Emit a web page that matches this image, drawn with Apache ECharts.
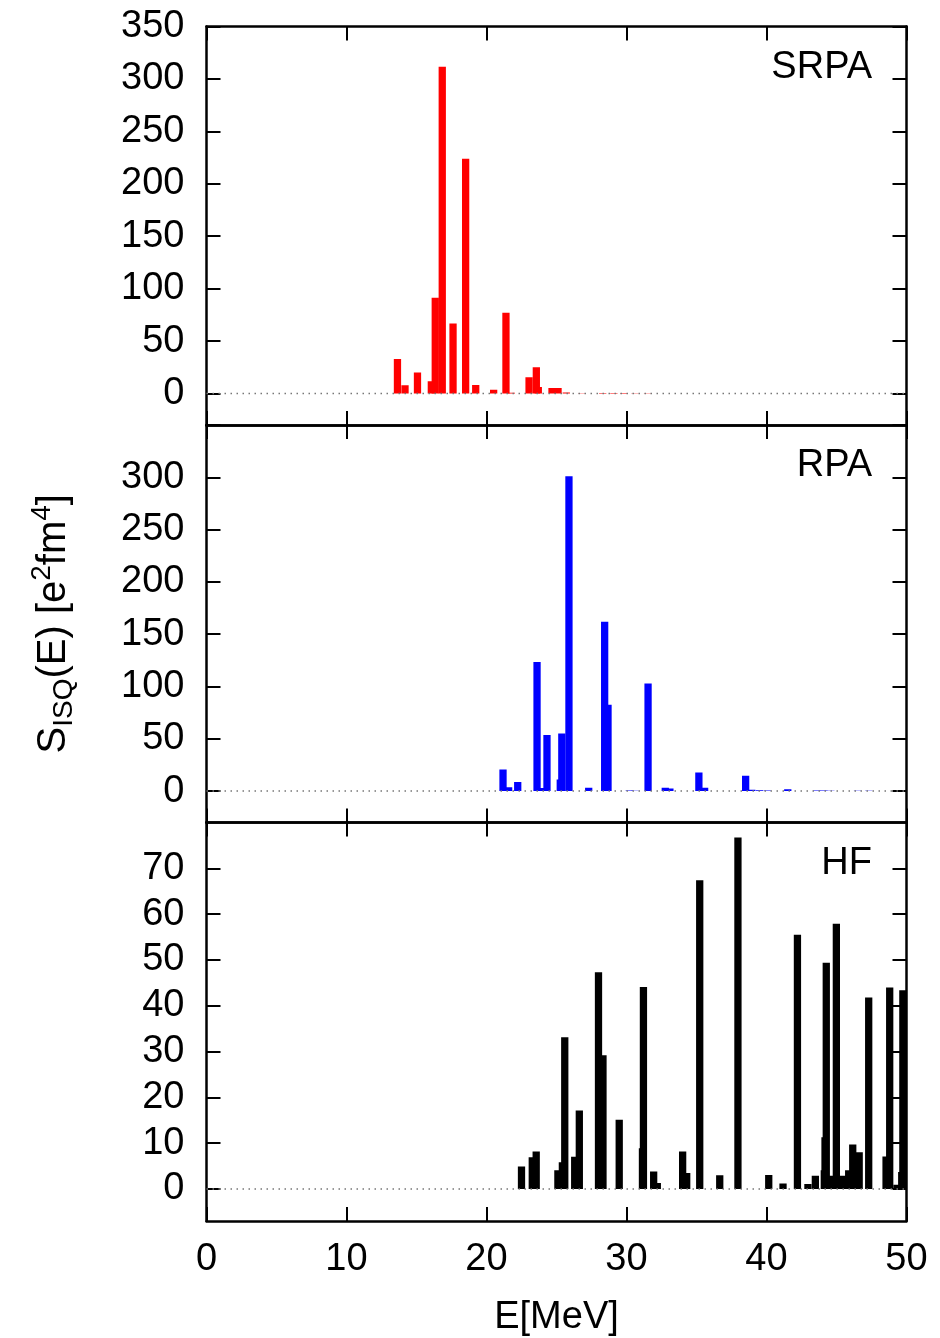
<!DOCTYPE html>
<html>
<head>
<meta charset="utf-8">
<script src="https://cdn.jsdelivr.net/npm/echarts@6/dist/echarts.min.js"></script>
<style>
  html, body { margin: 0; padding: 0; background: #fff; }
  #chart { width: 940px; height: 1338px; }
</style>
</head>
<body>
<div id="chart"></div>
<script>
// strength distributions, E in MeV, S in e^2 fm^4
const srpaE = [13.64, 14.18, 15.07, 16.06, 16.34, 16.84, 17.61, 18.51, 19.23, 20.51, 21.39, 21.78,
  23.04, 23.56, 23.70, 24.68, 25.11, 25.70, 26.8, 28.3, 29.1, 29.8, 30.6, 31.5];
const srpaS = [33, 8, 20, 11.7, 91.4, 311.7, 66.7, 223.8, 8.2, 3.5, 77.1, 0.8,
  15.5, 25, 6.3, 5.3, 5.3, 1.0, 0.3, 0.4, 0.6, 0.5, 0.3, 0.2];

const rpaE = [21.18, 21.58, 22.23, 23.61, 23.96, 24.32, 25.27, 25.38, 25.89, 27.30, 28.44, 28.68,
  30.2, 30.6, 31.54, 32.77, 33.10, 35.17, 35.58, 38.51, 38.95, 39.5, 40.05, 41.52,
  43.6, 44.1, 44.6, 46.5, 47.3, 47.9];
const rpaS = [20.7, 3.8, 8.6, 123.5, 3, 53.7, 11, 55, 301, 3.2, 162, 82.6,
  0.6, 0.4, 103, 3.2, 2.5, 17.8, 3.2, 14.6, 1.2, 0.8, 0.6, 1.9,
  0.5, 0.6, 0.4, 0.3, 0.3, 0.2];

const hfE = [22.50, 23.27, 23.55, 25.10, 25.42, 25.59, 26.30, 26.63, 28.00, 28.32, 29.48, 31.14,
  31.21, 31.94, 32.20, 34.01, 34.30, 35.23, 36.66, 37.96, 40.16, 41.18, 42.21, 42.96,
  43.49, 44.13, 44.18, 44.27, 44.50, 44.99, 45.51, 45.87, 46.16, 46.62, 47.30, 48.54,
  48.80, 49.32, 49.66, 49.74];
const hfS = [4.9, 6.9, 8.2, 4.1, 5.8, 33.1, 7.05, 17.1, 47.3, 29.2, 15.1, 8.9,
  44.1, 3.8, 1.3, 8.2, 3.5, 67.4, 3.0, 76.7, 3.05, 1.2, 55.5, 1.1,
  2.9, 4.1, 11.3, 49.4, 2.9, 57.9, 2.9, 4.1, 9.7, 8.0, 41.8, 7.1,
  44.0, 0.9, 3.7, 43.4];

const ticksS = [0, 50, 100, 150, 200, 250, 300, 350];
const labelsSrpa = [0, 50, 100, 150, 200, 250, 300, 350];
const labelsRpa = [0, 50, 100, 150, 200, 250, 300];
const ticksHf = [0, 10, 20, 30, 40, 50, 60, 70];

const BOX = 0.52; // box width in MeV
const FONT = '"Liberation Sans", Arial, Helvetica, sans-serif';
const frame = { color: '#000', width: 2.5 };

const panels = [
  { label: 'SRPA', e: srpaE, s: srpaS, color: '#ff0000', top: 26.5, height: 398.5, min: -30, max: 350, ticks: ticksS, labels: labelsSrpa },
  { label: 'RPA', e: rpaE, s: rpaS, color: '#0000ff', top: 425, height: 397.5, min: -30, max: 350, ticks: ticksS, labels: labelsRpa },
  { label: 'HF', e: hfE, s: hfS, color: '#000000', top: 822.5, height: 399, min: -7, max: 80, ticks: ticksHf, labels: ticksHf }
];

function boxes(color) {
  return function (params, api) {
    const e = api.value(0), v = api.value(1);
    const a = api.coord([e - BOX / 2, v]);
    const b = api.coord([e + BOX / 2, 0]);
    return {
      type: 'rect',
      shape: { x: a[0], y: a[1], width: b[0] - a[0], height: b[1] - a[1] },
      style: { fill: color }
    };
  };
}

const grid = [], xAxis = [], yAxis = [], series = [], graphic = [];

panels.forEach((p, i) => {
  grid.push({ left: 206.5, width: 700, top: p.top, height: p.height });

  ['bottom', 'top'].forEach(pos => {
    const last = i === 2 && pos === 'bottom';
    xAxis.push({
      gridIndex: i, type: 'value', position: pos, min: 0, max: 50, interval: 10,
      axisLine: { show: true, onZero: false, lineStyle: frame },
      axisTick: { show: true, inside: true, length: 14, lineStyle: { color: '#000', width: 2 } },
      axisLabel: { show: last, fontSize: 38, fontFamily: FONT, color: '#000', margin: 20 },
      splitLine: { show: false },
      name: last ? 'E[MeV]' : '',
      nameLocation: 'middle', nameGap: 78,
      nameTextStyle: { fontSize: 38, fontFamily: FONT, color: '#000' }
    });
  });

  ['left', 'right'].forEach(pos => {
    const ax = {
      gridIndex: i, type: 'value', position: pos, min: p.min, max: p.max,
      axisLine: { show: true, onZero: false, lineStyle: frame },
      axisTick: { show: true, inside: true, length: 14, customValues: p.ticks, lineStyle: { color: '#000', width: 2 } },
      axisLabel: { show: pos === 'left', customValues: p.labels, fontSize: 38, fontFamily: FONT, color: '#000', margin: 22 },
      splitLine: { show: false }
    };
    if (i === 1 && pos === 'left') {
      ax.name = '{s|S}{sub|ISQ}{s|(E) [e}{sup|2}{s|fm}{sup|4}{s|]}';
      ax.nameLocation = 'middle';
      ax.nameRotate = 90;
      ax.nameGap = 128;
      ax.nameTextStyle = {
        rich: {
          s: { fontSize: 40, fontFamily: FONT, color: '#000', lineHeight: 50 },
          sub: { fontSize: 28, fontFamily: FONT, color: '#000', lineHeight: 28, verticalAlign: 'bottom' },
          sup: { fontSize: 28, fontFamily: FONT, color: '#000', lineHeight: 28, verticalAlign: 'top' }
        }
      };
    }
    yAxis.push(ax);
  });

  series.push({
    type: 'custom',
    xAxisIndex: 2 * i, yAxisIndex: 2 * i,
    clip: true,
    renderItem: boxes(p.color),
    data: p.e.map((x, k) => [x, p.s[k]]),
    z: 2
  });
  series.push({
    type: 'line',
    xAxisIndex: 2 * i, yAxisIndex: 2 * i,
    data: [[0, 0], [50, 0]],
    symbol: 'none', silent: true,
    lineStyle: { color: '#777', width: 1.5, type: [1.5, 4.5] },
    z: 3
  });

  graphic.push({
    type: 'text', right: 68, top: p.top + 22,
    style: { text: p.label, fontSize: 38, fontFamily: FONT, fill: '#000' }
  });
});

const chart = echarts.init(document.getElementById('chart'), null, { renderer: 'canvas' });
chart.setOption({
  animation: false,
  backgroundColor: '#fff',
  grid, xAxis, yAxis, series, graphic
});
</script>
</body>
</html>
